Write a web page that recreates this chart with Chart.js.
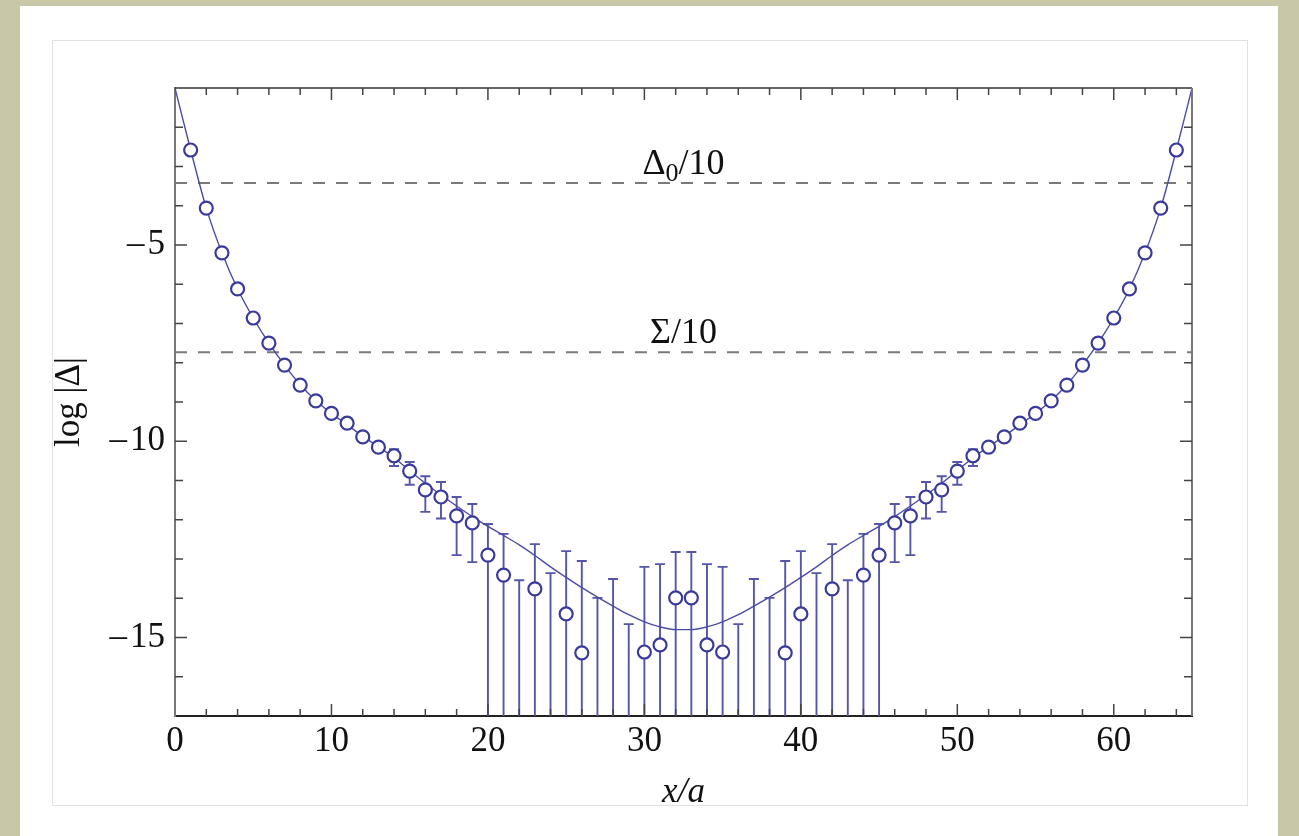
<!DOCTYPE html>
<html>
<head>
<meta charset="utf-8">
<script src="https://cdn.jsdelivr.net/npm/chart.js@4.4.1/dist/chart.umd.min.js"></script>
<style>
  html, body { margin: 0; padding: 0; }
  body { width: 1299px; height: 836px; overflow: hidden; position: relative;
         background: #c8c7a8; }
  #panel { position: absolute; left: 20px; top: 6px; width: 1258px; height: 840px; background: #fff; }
  #box { position: absolute; left: 52px; top: 40px; width: 1194px; height: 764px;
         border: 1.5px solid #e2e2e2; }
  #chart { position: absolute; left: 0; top: 0; }
</style>
</head>
<body>
<div id="panel"></div>
<div id="box"></div>
<canvas id="chart" width="1299" height="836"></canvas>
<script>
// lattice sites x/a
const sites = [0, 1, 2, 3, 4, 5, 6, 7, 8, 9, 10, 11, 12, 13, 14, 15, 16, 17, 18, 19,
  20, 21, 22, 23, 24, 25, 26, 27, 28, 29, 30, 31, 32, 33, 34, 35, 36, 37, 38, 39,
  40, 41, 42, 43, 44, 45, 46, 47, 48, 49, 50, 51, 52, 53, 54, 55, 56, 57, 58, 59,
  60, 61, 62, 63, 64, 65];

// fitted curve, log|Δ|
const curve = [-1.00, -2.58, -4.06, -5.20, -6.12, -6.86, -7.50, -8.06, -8.56, -8.96,
  -9.29, -9.58, -9.87, -10.14, -10.42, -10.75, -11.07, -11.37, -11.65, -11.92,
  -12.17, -12.40, -12.64, -12.91, -13.20, -13.47, -13.73, -13.97, -14.20, -14.42,
  -14.60, -14.73, -14.80, -14.80, -14.73, -14.60, -14.42, -14.20, -13.97, -13.73,
  -13.47, -13.20, -12.91, -12.64, -12.40, -12.17, -11.92, -11.65, -11.37, -11.07,
  -10.75, -10.42, -10.14, -9.87, -9.58, -9.29, -8.96, -8.56, -8.06, -7.50,
  -6.86, -6.12, -5.20, -4.06, -2.58, -1.00];

// measured points (null = no marker shown)
const measured = [null, -2.58, -4.06, -5.20, -6.12, -6.86, -7.50, -8.06, -8.57, -8.97,
  -9.29, -9.54, -9.89, -10.15, -10.37, -10.76, -11.24, -11.42, -11.90, -12.08,
  -12.90, -13.41, null, -13.76, null, -14.40, -15.39, null, null, null,
  -15.37, -15.19, -13.99, -13.99, -15.19, -15.37, null, null, null, -15.39,
  -14.40, null, -13.76, null, -13.41, -12.90, -12.08, -11.90, -11.42, -11.24,
  -10.76, -10.37, -10.15, -9.89, -9.54, -9.29, -8.97, -8.57, -8.06, -7.50,
  -6.86, -6.12, -5.20, -4.06, -2.58, null];

// error bar ends (null = no bar, -Infinity = bar runs off the bottom)
const errUpper = [null, null, null, null, null, null, null, null, null, null,
  null, null, null, null, -10.20, -10.53, -10.89, -11.04, -11.42, -11.60,
  -12.11, -12.36, -13.54, -12.62, -13.36, -12.80, -13.05, -13.99, -13.51, -14.66,
  -13.20, -13.13, -12.82, -12.82, -13.13, -13.20, -14.66, -13.51, -13.99, -13.05,
  -12.80, -13.36, -12.62, -13.54, -12.36, -12.11, -11.60, -11.42, -11.04, -10.89,
  -10.53, -10.20, null, null, null, null, null, null, null, null,
  null, null, null, null, null, null];
const errLower = [null, null, null, null, null, null, null, null, null, null,
  null, null, null, null, -10.63, -11.11, -11.80, -11.97, -12.90, -13.08,
  -Infinity, -Infinity, -Infinity, -Infinity, -Infinity, -Infinity, -Infinity, -Infinity, -Infinity, -Infinity,
  -Infinity, -Infinity, -Infinity, -Infinity, -Infinity, -Infinity, -Infinity, -Infinity, -Infinity, -Infinity,
  -Infinity, -Infinity, -Infinity, -Infinity, -Infinity, -Infinity, -13.08, -12.90, -11.97, -11.80,
  -11.11, -10.63, null, null, null, null, null, null, null, null,
  null, null, null, null, null, null];

// dashed reference levels
const refLevels = [-3.42, -7.73];
const refLabels = ['Δ_0/10', 'Σ/10'];

const xTicks = [0, 10, 20, 30, 40, 50, 60];
const yTicks = [-15, -10, -5];

const serif = "'Liberation Serif', 'Times New Roman', serif";
const fontSize = 35;

const decorPlugin = {
  id: 'decor',
  beforeDatasetsDraw(chart) {
    const { ctx, chartArea: a, scales: { x, y } } = chart;
    ctx.save();
    ctx.beginPath();
    ctx.rect(a.left, a.top, a.right - a.left, a.bottom - a.top);
    ctx.clip();
    ctx.strokeStyle = '#5555aa';
    ctx.lineWidth = 1.9;
    sites.forEach((s, i) => {
      if (errUpper[i] === null) return;
      const px = x.getPixelForValue(s);
      const top = y.getPixelForValue(errUpper[i]);
      const rawBottom = y.getPixelForValue(errLower[i]);
      const bottom = Math.min(rawBottom, a.bottom);
      ctx.beginPath();
      ctx.moveTo(px, top);
      ctx.lineTo(px, bottom);
      ctx.moveTo(px - 5, top);
      ctx.lineTo(px + 5, top);
      if (rawBottom < a.bottom) {
        ctx.moveTo(px - 5, bottom);
        ctx.lineTo(px + 5, bottom);
      }
      ctx.stroke();
    });
    ctx.restore();
  },
  afterDraw(chart) {
    const { ctx, chartArea: a, scales: { x, y } } = chart;
    ctx.save();
    // top and right frame
    ctx.strokeStyle = '#333';
    ctx.lineWidth = 1.5;
    ctx.beginPath();
    ctx.moveTo(a.left, a.top);
    ctx.lineTo(a.right, a.top);
    ctx.stroke();
    ctx.strokeStyle = '#777';
    ctx.lineWidth = 2;
    ctx.beginPath();
    ctx.moveTo(a.right, a.top);
    ctx.lineTo(a.right, a.bottom);
    ctx.stroke();

    // inward ticks
    ctx.strokeStyle = '#444';
    ctx.lineWidth = 1.5;
    ctx.beginPath();
    for (let v = 2; v < 65; v += 2) {
      const px = x.getPixelForValue(v);
      const len = v % 10 === 0 ? 12 : 7;
      ctx.moveTo(px, a.bottom); ctx.lineTo(px, a.bottom - len);
      ctx.moveTo(px, a.top); ctx.lineTo(px, a.top + len);
    }
    for (let v = -16; v <= -2; v += 1) {
      const py = y.getPixelForValue(v);
      const len = v % 5 === 0 ? 12 : 8;
      ctx.moveTo(a.left, py); ctx.lineTo(a.left + len, py);
      ctx.moveTo(a.right, py); ctx.lineTo(a.right - len, py);
    }
    ctx.stroke();

    // labels over dashed lines
    ctx.fillStyle = '#111';
    ctx.textBaseline = 'alphabetic';
    ctx.textAlign = 'left';
    const cx = x.getPixelForValue(32.5);
    refLevels.forEach((lvl, i) => {
      const m = refLabels[i].match(/^([^_\/]+)(?:_(\w+))?(.*)$/);
      const parts = [
        { t: m[1], size: 36, dy: 0 },
        { t: m[2] || '', size: 26, dy: 7 },
        { t: m[3], size: 36, dy: 0 }
      ];
      let total = 0;
      parts.forEach(p => {
        ctx.font = p.size + 'px ' + serif;
        p.w = ctx.measureText(p.t).width;
        total += p.w;
      });
      let px = cx - total / 2;
      const base = y.getPixelForValue(lvl) - 9;
      parts.forEach(p => {
        ctx.font = p.size + 'px ' + serif;
        ctx.fillText(p.t, px, base + p.dy);
        px += p.w;
      });
    });
    ctx.restore();
  }
};

const ctx = document.getElementById('chart').getContext('2d');
new Chart(ctx, {
  type: 'scatter',
  data: {
    datasets: [
      {
        label: 'measured',
        data: sites.map((s, i) => ({ x: s, y: measured[i] })).filter(p => p.y !== null),
        pointRadius: 6.5,
        pointBorderWidth: 2.2,
        pointBackgroundColor: '#ffffff',
        pointBorderColor: '#3a3a9c',
        showLine: false,
        order: 1
      },
      {
        type: 'line',
        label: 'fit',
        data: sites.map((s, i) => ({ x: s, y: curve[i] })),
        borderColor: '#4c4ca6',
        borderWidth: 1.4,
        pointRadius: 0,
        cubicInterpolationMode: 'monotone',
        fill: false,
        order: 2
      },
      ...refLevels.map(lvl => ({
        type: 'line',
        label: 'ref',
        data: [{ x: 0, y: lvl }, { x: 65, y: lvl }],
        borderColor: '#7a7a7a',
        borderWidth: 2,
        borderDash: [12, 11],
        pointRadius: 0,
        fill: false,
        order: 3
      }))
    ]
  },
  options: {
    responsive: false,
    devicePixelRatio: 1,
    animation: false,
    layout: { padding: { top: 88, right: 107, bottom: 0, left: 0 } },
    plugins: { legend: { display: false }, tooltip: { enabled: false } },
    scales: {
      x: {
        type: 'linear',
        position: 'bottom',
        min: 0,
        max: 65,
        grid: { display: false, drawTicks: false },
        border: { display: true, color: '#222', width: 2 },
        afterBuildTicks: s => { s.ticks = xTicks.map(v => ({ value: v })); },
        afterFit: s => { s.height = 120; },
        ticks: { color: '#111', padding: 5, maxRotation: 0,
                 font: { family: serif, size: fontSize } },
        title: { display: true, text: 'x/a', color: '#111',
                 padding: { top: 0, bottom: 22 },
                 font: { family: serif, size: fontSize, style: 'italic' } }
      },
      y: {
        type: 'linear',
        min: -17,
        max: -1,
        grid: { display: false, drawTicks: false },
        border: { display: true, color: '#777', width: 2 },
        afterBuildTicks: s => { s.ticks = yTicks.map(v => ({ value: v })); },
        afterFit: s => { s.width = 175; },
        ticks: { color: '#111', padding: 10,
                 font: { family: serif, size: fontSize },
                 callback: v => (v < 0 ? '\u2013\u200A' + Math.abs(v) : String(v)) },
        title: { display: true, text: 'log |Δ|', color: '#111',
                 padding: { top: 49, bottom: 0 },
                 font: { family: serif, size: fontSize } }
      }
    }
  },
  plugins: [decorPlugin]
});
</script>
</body>
</html>
